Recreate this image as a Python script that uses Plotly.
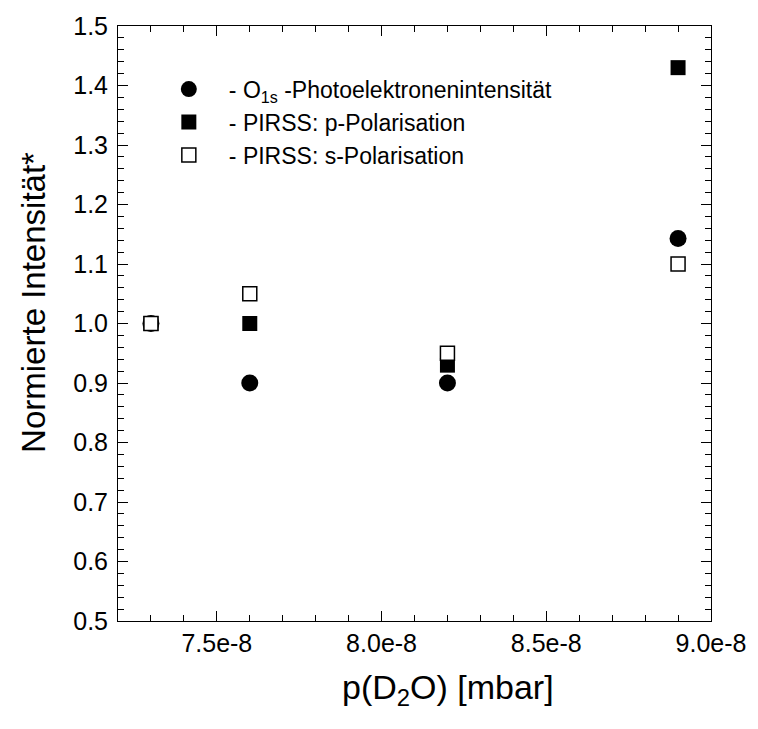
import plotly.graph_objects as go

# Data
pressure = [7.3e-8, 7.6e-8, 8.2e-8, 8.9e-8]
o1s_intensity = [1.0, 0.9, 0.9, 1.143]
p_polarisation = [1.0, 1.0, 0.93, 1.43]
s_polarisation = [1.0, 1.05, 0.95, 1.10]

x_tickvals = [7.5e-8, 8.0e-8, 8.5e-8, 9.0e-8]
x_ticktext = ["7.5e-8", "8.0e-8", "8.5e-8", "9.0e-8"]

FONT = "Arial, Liberation Sans, sans-serif"

fig = go.Figure()
fig.add_trace(go.Scatter(
    x=pressure, y=o1s_intensity, mode="markers",
    name="- O<sub>1s</sub> -Photoelektronenintensität",
    marker=dict(symbol="circle", size=17, color="black", line=dict(width=0)),
))
fig.add_trace(go.Scatter(
    x=pressure, y=p_polarisation, mode="markers",
    name="- PIRSS: p-Polarisation",
    marker=dict(symbol="square", size=15, color="black", line=dict(width=0)),
))
fig.add_trace(go.Scatter(
    x=pressure, y=s_polarisation, mode="markers",
    name="- PIRSS: s-Polarisation",
    marker=dict(symbol="square", size=14, color="white", line=dict(width=1.5, color="black")),
))

axis_common = dict(
    showline=True, linecolor="black", linewidth=1, mirror="allticks",
    ticks="inside", ticklen=10, tickwidth=1, tickcolor="black",
    showgrid=False, zeroline=False,
)

fig.update_layout(
    width=758, height=729,
    margin=dict(l=118, r=40, t=20, b=108),
    plot_bgcolor="white", paper_bgcolor="white",
    font=dict(family=FONT, color="black"),
    xaxis=dict(
        range=[7.2e-8, 9.0e-8],
        tickmode="array", tickvals=x_tickvals, ticktext=x_ticktext,
        minor=dict(dtick=1e-9, tick0=0, ticks="inside", ticklen=6, tickcolor="black", showgrid=False),
        tickfont=dict(family=FONT, size=25, color="black"),
        **axis_common,
    ),
    yaxis=dict(
        range=[0.5, 1.5], dtick=0.1, tick0=0.5, tickformat=".1f",
        minor=dict(dtick=0.02, tick0=0.5, ticks="inside", ticklen=6, tickcolor="black", showgrid=False),
        ticklabelstandoff=4,
        tickfont=dict(family=FONT, size=25, color="black"),
        **axis_common,
    ),
    showlegend=True,
    legend=dict(
        x=0.052, y=0.93, xanchor="left", yanchor="top",
        bgcolor="rgba(0,0,0,0)", borderwidth=0,
        font=dict(family=FONT, size=23, color="black"),
        itemwidth=70, tracegroupgap=0,
    ),
    annotations=[
        dict(text="p(D<sub>2</sub>O) [mbar]", xref="paper", yref="paper",
             x=0.557, y=-0.115, xanchor="center", yanchor="middle", showarrow=False,
             font=dict(family=FONT, size=34, color="black")),
        dict(text="Normierte Intensität*", xref="paper", yref="paper",
             x=-0.143, y=0.535, xanchor="center", yanchor="middle", showarrow=False,
             textangle=-90, font=dict(family=FONT, size=33, color="black")),
    ],
)

fig.write_html("out.html", config={"displayModeBar": False},
               post_script="document.body.style.margin='0';")
